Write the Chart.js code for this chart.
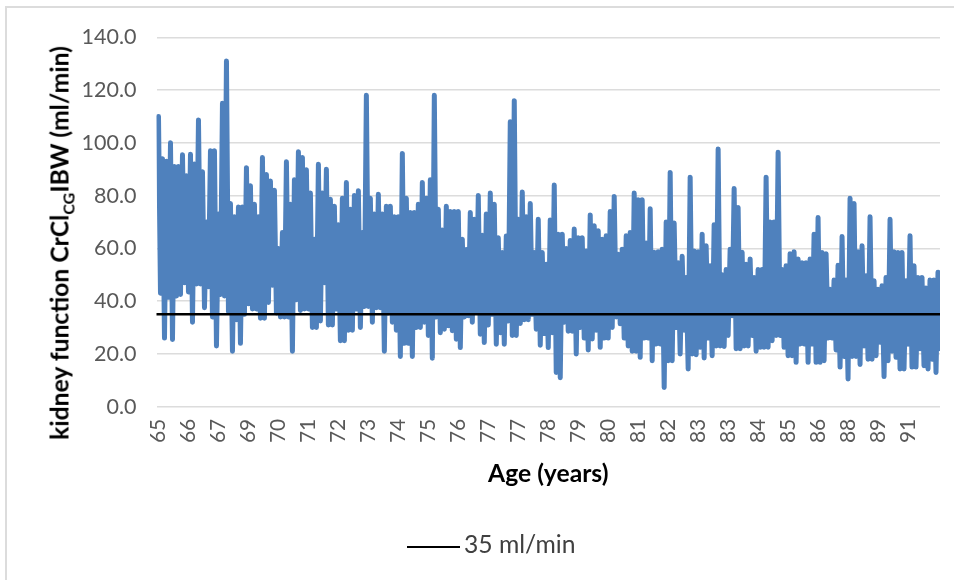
<!DOCTYPE html>
<html>
<head>
<meta charset="utf-8">
<script src="https://cdn.jsdelivr.net/npm/chart.js@4"></script>
<style>
html, body { margin: 0; padding: 0; background: #fff; }
#wrap { position: relative; width: 954px; height: 580px; overflow: hidden; font-family: Lato, sans-serif; }
#frame { position: absolute; left: 5px; top: 6px; width: 960px; height: 600px; border-left: 2px solid #dcdcdc; border-top: 2px solid #dcdcdc; }
#canvas { position: absolute; left: 0; top: 0; }
#ytitle { position: absolute; left: 59px; top: 243px; transform: translate(-50%, -50%) rotate(-90deg); white-space: nowrap; font-weight: bold; font-size: 24.7px; color: #000; }
#ytitle sub { font-size: 16px; line-height: 0; }
#legendDiv { position: absolute; left: 407px; top: 530px; white-space: nowrap; font-size: 24.7px; color: #404040; line-height: 28px; }
#legendDiv i { display: inline-block; width: 53px; height: 2px; margin-right: 4px; vertical-align: middle; }
</style>
</head>
<body>
<div id="wrap">
  <div id="frame"></div>
  <canvas id="canvas" width="954" height="580"></canvas>
  <div id="ytitle">kidney function CrCl<sub>CG</sub>IBW (ml/min)</div>
  <div id="legendDiv"></div>
</div>
<script>
var ageTicks = [65,66,67,69,70,71,72,73,74,75,76,77,77,78,79,80,81,82,83,83,84,85,86,88,89,91];
var pointsPerTick = 15;
var yTicks = [0,20,40,60,80,100,120,140];
var thresholdValue = 35;

// readings, upper edge of the band, left to right
var crclHigh = [
    110,94,93,100,91,91,95.5,87.5,95.7,92,
    108.7,89,70,97,97,73,115,131,77,72,
    75.7,75.7,90.6,83.7,76.7,72,94.4,88,85.5,82,
    60,66,92.8,76.7,86,96.6,94.4,89.8,81,63.5,
    91.9,81,90,78.6,76,69,79,85,74.8,80,
    81.8,66,118,79,73,80.5,73,76,76,72,
    72,96,79,73.6,73.6,76.7,85,79,86,118,
    74.8,67,76,74,74,74,63.5,59.6,73.6,71,
    80,65,73,81,76.7,64,58.4,64.7,108,116,
    71,81.4,72,77,58.4,71,58.4,54,70.8,84,
    65.4,65.4,60,63,67.3,64,64,59,72.7,68.6,
    66.7,63.5,64.8,74,79.7,57.8,59.7,64.8,66,81,
    78.4,78.4,62,75,58.5,58.7,59.7,70,88.8,69.6,
    54.6,57,49,87,59,58.7,65.4,61,53.4,69,
    97.7,50,52,59.7,82.7,75.5,58.5,54,56,49,
    52,52,87,70,70,96.4,52,53.4,58,58.7,
    56,54.6,54.6,56,65.4,71.7,58.4,58,44.5,48,
    53.6,64.5,48,79,77,58.7,61,49.6,72,47.7,
    44.5,45.8,49,71,58.7,58.4,58.4,47.7,64.8,53.4,
    49,49,45,48,48,51
];
// lower edge of the band
var crclLow = [
    43,26,41.5,25.5,42,42.5,47,43.5,32,46.5,
    46.5,37.5,45.5,34,23,42.5,42,36,21,33,
    24,35,39,37,37,33.5,33.5,39.5,46,35.5,
    34,34,34,21,40.5,36.5,37,37,30,30,
    32.5,47,31,31,37,25,25,29,29,37,
    30,38,38,32,37.5,37.5,21,35.5,32,29,
    19,24,24,19,30,30,32,27,18.4,34,
    28,29.4,30.7,28.8,25.6,22.4,34,34.5,32,35.7,
    27.5,24.3,31,35,23.7,28,23.7,32.5,27,27,
    31.5,33,33,35,29.4,23.3,27.7,22.4,28,13,
    11,32,28.6,28.6,20,30,26,21.5,25.7,29,
    22.5,26,26,30,34,31.4,26,23,21,21,
    18.7,26,26,17.4,23.8,23.8,7.3,17.4,17.4,30,
    20,29,14.3,20,19.7,22.5,18.5,26,19.3,23,
    23,22.8,27,34.5,22,22,23,23,27,21,
    22.5,22.5,22.5,25,27,27,22.5,19.3,19.3,16.8,
    23.8,23.8,16.8,23.8,16.8,16.8,17.4,26,26,21.5,
    15,19,10.5,19,19,16,23,18,18,19.3,
    24.4,11.4,17.4,21,18.7,14.3,14.3,23.7,15,15,
    22,15.5,14.3,18,13,22
];

var blue = "#4f81bd";
var gridColor = "#dcdcdc";
var tickColor = "#595959";

function buildSeries(){
    // empty first category, the band starts a little inside the axis
    var out = [null];
    for(var k = 0; k < crclHigh.length; k++){
        out.push(crclHigh[k]);
        out.push(crclLow[k]);
    }
    return out;
}

function draw_chart(){
    var crcl = buildSeries();
    var labels = [];
    var threshold = [];
    for(var i = 0; i < crcl.length; i++){
        var tick = ageTicks[(i - 1) / pointsPerTick];
        labels.push(tick === undefined ? "" : String(tick));
        threshold.push(thresholdValue);
    }

    var ctx = document.getElementById("canvas").getContext("2d");
    window.myLine = new Chart(ctx, {
        type: "line",
        data: {
            labels: labels,
            datasets: [
                {
                    label: "35 ml/min",
                    data: threshold,
                    borderColor: "#000",
                    borderWidth: 2.5,
                    pointRadius: 0,
                    order: 0
                },
                {
                    label: "CrCl",
                    data: crcl,
                    borderColor: blue,
                    borderWidth: 5,
                    borderJoinStyle: "round",
                    borderCapStyle: "round",
                    pointRadius: 0,
                    tension: 0,
                    clip: 0,
                    order: 1
                }
            ]
        },
        options: {
            responsive: false,
            animation: false,
            layout: { padding: { left: 0, right: 14, top: 37.3, bottom: 0 } },
            plugins: {
                legend: { display: false },
                tooltip: { enabled: false }
            },
            scales: {
                x: {
                    type: "category",
                    afterFit: function(scale){ scale.height = 173.3; scale.paddingRight = 0; scale.paddingLeft = 0; },
                    grid: { display: false },
                    border: { display: false },
                    ticks: {
                        autoSkip: false,
                        minRotation: 90,
                        maxRotation: 90,
                        padding: 4,
                        color: tickColor,
                        font: { family: "Lato", size: 21 }
                    },
                    title: {
                        display: true,
                        text: "Age (years)",
                        color: "#000",
                        font: { family: "Lato", size: 24.7, weight: "bold" },
                        padding: { top: 0, bottom: 91 }
                    }
                },
                y: {
                    min: yTicks[0],
                    max: yTicks[yTicks.length - 1],
                    afterFit: function(scale){ scale.width = 156.5; },
                    grid: { color: gridColor, lineWidth: 1.5, drawTicks: false },
                    border: { display: false },
                    ticks: {
                        stepSize: 20,
                        padding: 20,
                        color: tickColor,
                        font: { family: "Lato", size: 21.5 },
                        callback: function(v){ return v.toFixed(1); }
                    }
                }
            }
        }
    });

    var ds = window.myLine.data.datasets[0];
    document.getElementById("legendDiv").innerHTML =
        '<i style="background:' + ds.borderColor + '"></i>' + ds.label;
}

draw_chart();
</script>
</body>
</html>
